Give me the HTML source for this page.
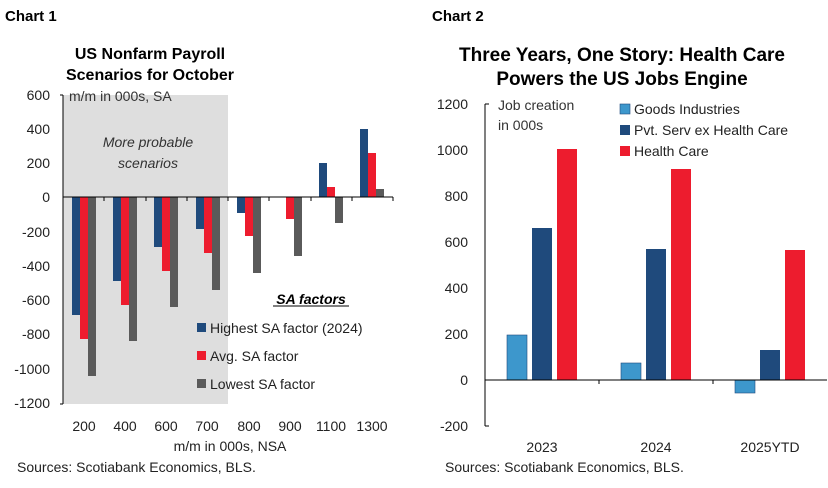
<!DOCTYPE html><html><head><style>body{margin:0;background:#fff}svg{font-family:"Liberation Sans",sans-serif}</style></head><body>
<svg width="828" height="483" viewBox="0 0 828 483" xmlns="http://www.w3.org/2000/svg">
<text x="5" y="21" font-size="15" font-weight="bold">Chart 1</text>
<text x="432" y="21" font-size="15" font-weight="bold">Chart 2</text>
<text x="150" y="59" font-size="16" font-weight="bold" text-anchor="middle">US Nonfarm Payroll</text>
<text x="150" y="80" font-size="16" font-weight="bold" text-anchor="middle">Scenarios for October</text>
<rect x="63" y="95" width="165" height="309" fill="#dedede"/>
<g font-size="14" text-anchor="end" fill="#222">
<text x="50" y="100">600</text><text x="50" y="134">400</text><text x="50" y="168">200</text><text x="50" y="202">0</text><text x="50" y="237">-200</text><text x="50" y="271">-400</text><text x="50" y="305">-600</text><text x="50" y="339">-800</text><text x="50" y="374">-1000</text><text x="50" y="408">-1200</text></g>
<text x="69" y="101" font-size="14" fill="#333">m/m in 000s, SA</text>
<text x="148" y="147" font-size="14" font-style="italic" text-anchor="middle" fill="#333">More probable</text>
<text x="148" y="168" font-size="14" font-style="italic" text-anchor="middle" fill="#333">scenarios</text>
<g fill="#1f4a7c">
<rect x="72" y="197" width="8" height="118"/><rect x="113" y="197" width="8" height="84"/><rect x="154" y="197" width="8" height="50"/><rect x="196" y="197" width="8" height="32"/><rect x="237" y="197" width="8" height="16"/><rect x="319" y="163" width="8" height="34"/><rect x="360" y="129" width="8" height="68"/></g>
<g fill="#ed1c2e">
<rect x="80" y="197" width="8" height="142"/><rect x="121" y="197" width="8" height="108"/><rect x="162" y="197" width="8" height="74"/><rect x="204" y="197" width="8" height="56"/><rect x="245" y="197" width="8" height="39"/><rect x="286" y="197" width="8" height="22"/><rect x="327" y="187" width="8" height="10"/><rect x="368" y="153" width="8" height="44"/></g>
<g fill="#5a5a5a">
<rect x="88" y="197" width="8" height="179"/><rect x="129" y="197" width="8" height="144"/><rect x="170" y="197" width="8" height="110"/><rect x="212" y="197" width="8" height="93"/><rect x="253" y="197" width="8" height="76"/><rect x="294" y="197" width="8" height="59"/><rect x="335" y="197" width="8" height="26"/><rect x="376" y="189" width="8" height="8"/></g>
<line x1="63" y1="95" x2="63" y2="404" stroke="#000"/>
<line x1="63" y1="197" x2="393" y2="197" stroke="#000"/>
<g stroke="#000">
<line x1="60" y1="95" x2="63" y2="95"/><line x1="60" y1="404" x2="63" y2="404"/>
<line x1="104" y1="197" x2="104" y2="201"/><line x1="146" y1="197" x2="146" y2="201"/><line x1="187" y1="197" x2="187" y2="201"/><line x1="228" y1="197" x2="228" y2="201"/><line x1="269" y1="197" x2="269" y2="201"/><line x1="311" y1="197" x2="311" y2="201"/><line x1="352" y1="197" x2="352" y2="201"/><line x1="393" y1="197" x2="393" y2="201"/></g>
<text x="311" y="304" font-size="14" font-weight="bold" font-style="italic" text-anchor="middle">SA factors</text>
<line x1="273" y1="306" x2="349" y2="306" stroke="#000"/>
<rect x="197" y="323" width="9" height="9" fill="#1f4a7c"/><text x="210" y="333" font-size="14" fill="#222">Highest SA factor (2024)</text>
<rect x="197" y="351" width="9" height="9" fill="#ed1c2e"/><text x="210" y="361" font-size="14" fill="#222">Avg. SA factor</text>
<rect x="197" y="379" width="9" height="9" fill="#5a5a5a"/><text x="210" y="389" font-size="14" fill="#222">Lowest SA factor</text>
<g font-size="14" text-anchor="middle" fill="#222">
<text x="84" y="431">200</text><text x="125" y="431">400</text><text x="166" y="431">600</text><text x="207" y="431">700</text><text x="249" y="431">800</text><text x="290" y="431">900</text><text x="331" y="431">1100</text><text x="372" y="431">1300</text>
<text x="230" y="451">m/m in 000s, NSA</text></g>
<text x="17" y="472" font-size="14" fill="#222">Sources: Scotiabank Economics, BLS.</text>

<text x="622" y="61" font-size="19" font-weight="bold" text-anchor="middle">Three Years, One Story: Health Care</text>
<text x="622" y="85" font-size="19" font-weight="bold" text-anchor="middle">Powers the US Jobs Engine</text>
<g font-size="14" text-anchor="end" fill="#222">
<text x="468" y="109">1200</text><text x="468" y="155">1000</text><text x="468" y="201">800</text><text x="468" y="247">600</text><text x="468" y="293">400</text><text x="468" y="339">200</text><text x="468" y="385">0</text><text x="468" y="431">-200</text></g>
<text x="498" y="110" font-size="14" fill="#333">Job creation</text>
<text x="498" y="130" font-size="14" fill="#333">in 000s</text>
<rect x="507" y="335" width="20" height="45" fill="#3d97cc" stroke="#1f4a7c" stroke-width="0.6"/>
<rect x="532" y="228" width="20" height="152" fill="#1f4a7c"/>
<rect x="557" y="149" width="20" height="231" fill="#ed1c2e"/>
<rect x="621" y="363" width="20" height="17" fill="#3d97cc" stroke="#1f4a7c" stroke-width="0.6"/>
<rect x="646" y="249" width="20" height="131" fill="#1f4a7c"/>
<rect x="671" y="169" width="20" height="211" fill="#ed1c2e"/>
<rect x="735" y="380" width="20" height="13" fill="#3d97cc" stroke="#1f4a7c" stroke-width="0.6"/>
<rect x="760" y="350" width="20" height="30" fill="#1f4a7c"/>
<rect x="785" y="250" width="20" height="130" fill="#ed1c2e"/>
<line x1="485" y1="104" x2="485" y2="426" stroke="#000"/>
<line x1="485" y1="380" x2="827" y2="380" stroke="#000"/>
<g stroke="#000"><line x1="485" y1="104" x2="489" y2="104"/><line x1="485" y1="426" x2="489" y2="426"/><line x1="599" y1="380" x2="599" y2="384"/><line x1="713" y1="380" x2="713" y2="384"/></g>
<rect x="620" y="104" width="10" height="10" fill="#3d97cc" stroke="#1f4a7c" stroke-width="0.6"/><text x="634" y="114" font-size="14" fill="#222">Goods Industries</text>
<rect x="620" y="125" width="10" height="10" fill="#1f4a7c"/><text x="634" y="135" font-size="14" fill="#222">Pvt. Serv ex Health Care</text>
<rect x="620" y="146" width="10" height="10" fill="#ed1c2e"/><text x="634" y="156" font-size="14" fill="#222">Health Care</text>
<g font-size="14" text-anchor="middle" fill="#222"><text x="542" y="452">2023</text><text x="656" y="452">2024</text><text x="770" y="452">2025YTD</text></g>
<text x="445" y="472" font-size="14" fill="#222">Sources: Scotiabank Economics, BLS.</text>
</svg></body></html>
